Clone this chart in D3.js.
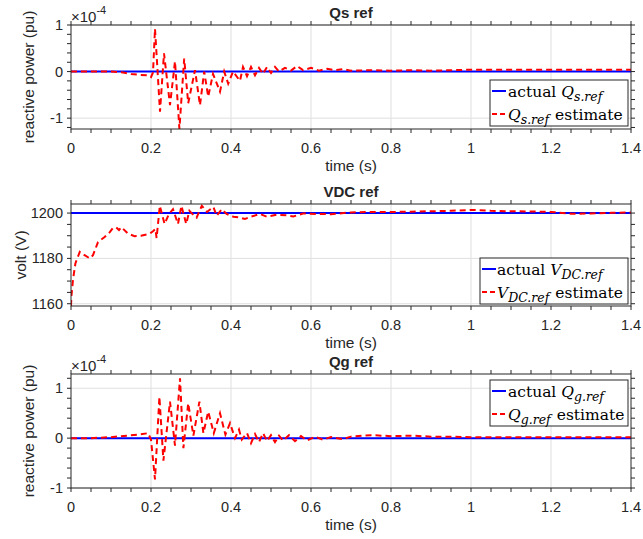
<!DOCTYPE html>
<html>
<head>
<meta charset="utf-8">
<script src="https://cdn.jsdelivr.net/npm/d3@7"></script>
<style>
  body { margin: 0; background: #fff; }
  text { font-family: "Liberation Sans", Arial, sans-serif; fill: #262626; }
  .leg text { font-family: "DejaVu Serif", "Liberation Serif", serif; fill: #000; }
</style>
</head>
<body>
<svg id="fig" width="643" height="539"></svg>
<script>
// ---------------- data ----------------
const timeTicks = [0, 0.2, 0.4, 0.6, 0.8, 1, 1.2, 1.4];
const actualTime = [0, 1.4];

// Qs ref (x1e-4 pu)
const qsActual = [0, 0];
const qsTime = [0, 0.05, 0.1, 0.13, 0.15, 0.17, 0.19, 0.2, 0.205, 0.21,
  0.2225, 0.2325, 0.2475, 0.26, 0.271, 0.283, 0.293, 0.31, 0.3225, 0.333,
  0.343, 0.355, 0.3725, 0.383, 0.393, 0.405, 0.4225, 0.43, 0.44, 0.45,
  0.46, 0.47, 0.48, 0.49, 0.5, 0.51, 0.52, 0.535, 0.55, 0.565,
  0.58, 0.6, 0.62, 0.64, 0.66, 0.68, 0.7, 0.75, 0.8, 0.85,
  0.9, 0.95, 1.0, 1.05, 1.1, 1.15, 1.2, 1.25, 1.3, 1.35, 1.4];
const qsEst = [0, 0, 0, -0.02, -0.05, -0.07, -0.08, -0.12, -0.02, 0.92,
  -0.86, 0.39, -0.72, 0.22, -1.23, 0.28, -0.68, 0.03, -0.72, 0.0,
  -0.54, -0.05, -0.43, 0.0, -0.26, 0.0, -0.2, 0.1, -0.1, 0.1,
  -0.08, 0.08, -0.05, 0.1, -0.03, 0.1, 0.0, 0.08, 0.02, 0.12,
  0.03, 0.08, 0.02, 0.06, 0.03, 0.05, 0.02, 0.03, 0.02, 0.03,
  0.02, 0.03, 0.04, 0.04, 0.04, 0.04, 0.04, 0.04, 0.04, 0.04, 0.04];
const qsTicks = [-1, 0, 1];

// VDC ref (V)
const vdcActual = [1200, 1200];
const vdcTime = [0, 0.001, 0.005, 0.011, 0.022, 0.034, 0.047, 0.055, 0.0675, 0.084,
  0.097, 0.105, 0.113, 0.12, 0.126, 0.1425, 0.159, 0.175, 0.197, 0.205,
  0.211, 0.214, 0.222, 0.234, 0.245, 0.255, 0.2675, 0.276, 0.288, 0.296,
  0.308, 0.314, 0.327, 0.34, 0.356, 0.364, 0.377, 0.389, 0.406, 0.422,
  0.435, 0.45, 0.4725, 0.489, 0.514, 0.539, 0.556, 0.58, 0.614, 0.65,
  0.7, 0.75, 0.8, 0.85, 0.9, 0.95, 1.0, 1.05, 1.1, 1.15,
  1.2, 1.25, 1.3, 1.35, 1.4];
const vdcEst = [1159, 1163.3, 1170.6, 1177.8, 1182.9, 1181.4, 1180, 1181.4, 1187.2, 1189.4,
  1191.6, 1193.5, 1193.7, 1192.5, 1193.8, 1190.9, 1189.8, 1190, 1190.9, 1192,
  1193, 1189, 1203.2, 1195.2, 1199.6, 1201.7, 1195.2, 1203.2, 1195.2, 1201,
  1198.8, 1198, 1203.2, 1200.5, 1202.7, 1198.8, 1201.7, 1199.6, 1198.4, 1198,
  1197.4, 1198.4, 1199.6, 1198.4, 1199.3, 1199, 1198.5, 1199.8, 1199.6, 1199.5,
  1200.3, 1200.5, 1200.5, 1200.6, 1200.8, 1201, 1201.4, 1201, 1200.8, 1200.7,
  1200.5, 1199.7, 1199.8, 1200.1, 1200.3];
const vdcTicks = [1160, 1180, 1200];

// Qg ref (x1e-4 pu)
const qgActual = [0, 0];
const qgTime = [0, 0.05, 0.1, 0.14, 0.17, 0.193, 0.2, 0.21, 0.221, 0.231,
  0.2475, 0.26, 0.2725, 0.281, 0.293, 0.306, 0.321, 0.331, 0.343, 0.357,
  0.3725, 0.386, 0.3975, 0.41, 0.42, 0.427, 0.44, 0.45, 0.46, 0.47,
  0.48, 0.49, 0.5, 0.51, 0.52, 0.53, 0.545, 0.56, 0.575, 0.59,
  0.61, 0.63, 0.65, 0.68, 0.7, 0.75, 0.8, 0.85, 0.9, 0.95,
  1.0, 1.1, 1.2, 1.3, 1.4];
const qgEst = [0, 0, 0.02, 0.05, 0.07, 0.1, -0.03, -0.83, 0.83, -0.45,
  0.73, -0.15, 1.2, -0.2, 0.7, 0.05, 0.73, 0.1, 0.53, 0.1,
  0.5, 0.07, 0.3, 0.0, 0.17, -0.03, 0.1, -0.1, 0.08, -0.08,
  0.1, -0.06, 0.06, -0.08, 0.05, -0.05, 0.06, -0.06, 0.04, -0.05,
  0.03, -0.03, 0.02, -0.02, 0.03, 0.06, 0.04, 0.05, 0.03, 0.03,
  0.02, 0.02, 0.02, 0.02, 0.02];
const qgTicks = [-1, 0, 1];

// ---------------- layout ----------------
const svg = d3.select("#fig");
svg.append("rect").attr("width", 643).attr("height", 539).attr("fill", "#fff");

const X0 = 71, X1 = 631;
const x = d3.scaleLinear().domain([0, 1.4]).range([X0, X1]);
const xMinor = d3.range(0, 1.4001, 0.05);

const panels = [
  { title: "Qs ref", top: 25, bottom: 129, yDom: [-1.233, 1], ticks: qsTicks, minorStep: 0.2,
    ylabel: "reactive power (pu)", ylabelX: 34, exp: true,
    time: qsTime, est: qsEst, act: qsActual,
    leg: { x: 490, y: 80, w: 138, h: 46, sx: 492, tx: 508,
           sym: "Q", sub: "s.ref" } },
  { title: "VDC ref", top: 204, bottom: 306, yDom: [1159, 1204], ticks: vdcTicks, minorStep: 5,
    ylabel: "volt (V)", ylabelX: 26, exp: false,
    time: vdcTime, est: vdcEst, act: vdcActual,
    leg: { x: 480, y: 258, w: 148, h: 46, sx: 482, tx: 497,
           sym: "V", sub: "DC.ref" } },
  { title: "Qg ref", top: 374, bottom: 488, yDom: [-1, 1.286], ticks: qgTicks, minorStep: 0.2,
    ylabel: "reactive power (pu)", ylabelX: 34, exp: true,
    time: qgTime, est: qgEst, act: qgActual,
    leg: { x: 490, y: 380, w: 138, h: 46, sx: 492, tx: 508,
           sym: "Q", sub: "g.ref" } }
];

panels.forEach((p, i) => drawPanel(p, i));

function drawPanel(p, i) {
  const y = d3.scaleLinear().domain(p.yDom).range([p.bottom, p.top]);
  const g = svg.append("g");

  // 그리드
  g.selectAll(".gx").data(timeTicks.slice(1, -1)).enter().append("line")
    .attr("x1", d => x(d)).attr("x2", d => x(d))
    .attr("y1", p.top).attr("y2", p.bottom)
    .attr("stroke", "#dfdfdf").attr("stroke-width", 1);
  g.selectAll(".gy").data(p.ticks).enter().append("line")
    .attr("x1", X0).attr("x2", X1)
    .attr("y1", d => y(d)).attr("y2", d => y(d))
    .attr("stroke", "#dfdfdf").attr("stroke-width", 1);

  // clip
  svg.append("clipPath").attr("id", "clip" + i)
    .append("rect").attr("x", X0).attr("y", p.top - 1)
    .attr("width", X1 - X0).attr("height", p.bottom - p.top + 2);

  const line = d3.line().x(d => x(d[0])).y(d => y(d[1]));

  g.append("path")
    .attr("clip-path", `url(#clip${i})`)
    .attr("d", line(actualTime.map((t, k) => [t, p.act[k]])))
    .attr("fill", "none").attr("stroke", "#0000ff").attr("stroke-width", 2);

  g.append("path")
    .attr("clip-path", `url(#clip${i})`)
    .attr("d", line(p.time.map((t, k) => [t, p.est[k]])))
    .attr("fill", "none").attr("stroke", "#ff0000").attr("stroke-width", 2)
    .attr("stroke-dasharray", "6,4");

  // 축 (바깥쪽 눈금, box on)
  const yMin = d3.range(Math.ceil(p.yDom[0] / p.minorStep) * p.minorStep, p.yDom[1] + 1e-9, p.minorStep);
  const ax = g.append("g").attr("stroke", "#262626").attr("stroke-width", 1);
  ax.append("rect").attr("x", X0).attr("y", p.top)
    .attr("width", X1 - X0).attr("height", p.bottom - p.top).attr("fill", "none");
  xMinor.forEach(t => {
    ax.append("line").attr("x1", x(t)).attr("x2", x(t)).attr("y1", p.bottom).attr("y2", p.bottom + 4);
    ax.append("line").attr("x1", x(t)).attr("x2", x(t)).attr("y1", p.top).attr("y2", p.top - 4);
  });
  yMin.forEach(v => {
    ax.append("line").attr("x1", X0).attr("x2", X0 - 4).attr("y1", y(v)).attr("y2", y(v));
    ax.append("line").attr("x1", X1).attr("x2", X1 + 4).attr("y1", y(v)).attr("y2", y(v));
  });

  g.selectAll(".xt").data(timeTicks).enter().append("text")
    .attr("x", d => x(d)).attr("y", p.bottom + 24)
    .attr("text-anchor", "middle").style("font-size", "14.5px")
    .text(d => d3.format("~g")(d));
  g.selectAll(".yt").data(p.ticks).enter().append("text")
    .attr("x", X0 - 8).attr("y", d => y(d)).attr("dy", "0.35em")
    .attr("text-anchor", "end").style("font-size", "14.5px")
    .text(d => d < 0 ? "-" + Math.abs(d) : d);

  g.append("text").attr("x", (X0 + X1) / 2).attr("y", p.top - 7)
    .attr("text-anchor", "middle").style("font-size", "15px").style("font-weight", "bold")
    .attr("fill", "#000").text(p.title);
  g.append("text").attr("x", (X0 + X1) / 2).attr("y", p.bottom + 42)
    .attr("text-anchor", "middle").style("font-size", "15.5px").text("time (s)");
  g.append("text")
    .attr("transform", `translate(${p.ylabelX},${(p.top + p.bottom) / 2}) rotate(-90)`)
    .attr("text-anchor", "middle").style("font-size", "15.5px").text(p.ylabel);

  if (p.exp) {
    const e = g.append("text").attr("x", X0).attr("y", p.top - 3).style("font-size", "15px");
    e.append("tspan").text("\u00d710");
    e.append("tspan").attr("dy", -8).style("font-size", "11px").text("-4");
  }

  // 범례
  const L = p.leg;
  const lg = g.append("g").attr("class", "leg");
  lg.append("rect").attr("x", L.x).attr("y", L.y).attr("width", L.w).attr("height", L.h)
    .attr("fill", "#fff").attr("stroke", "#262626").attr("stroke-width", 1);
  const rows = [
    { pre: "actual ", post: "estimate", color: "#0000ff", dash: null },
    { pre: "", post: "estimate", color: "#ff0000", dash: "5,3" }
  ];
  rows.forEach((r, k) => {
    const cy = L.y + 11 + k * 23;
    lg.append("line").attr("x1", L.sx).attr("x2", L.sx + 14).attr("y1", cy).attr("y2", cy)
      .attr("stroke", r.color).attr("stroke-width", 2)
      .attr("stroke-dasharray", r.dash);
    const t = lg.append("text").attr("x", L.tx).attr("y", cy + 6).style("font-size", "15.5px");
    if (r.pre) t.append("tspan").text(r.pre);
    t.append("tspan").style("font-style", "italic").text(p.leg.sym);
    t.append("tspan").attr("dy", 4).style("font-style", "italic").style("font-size", "12.5px").text(p.leg.sub);
    if (k === 1) t.append("tspan").attr("dy", -4).attr("dx", 6).text(r.post);
  });
}
</script>
</body>
</html>
